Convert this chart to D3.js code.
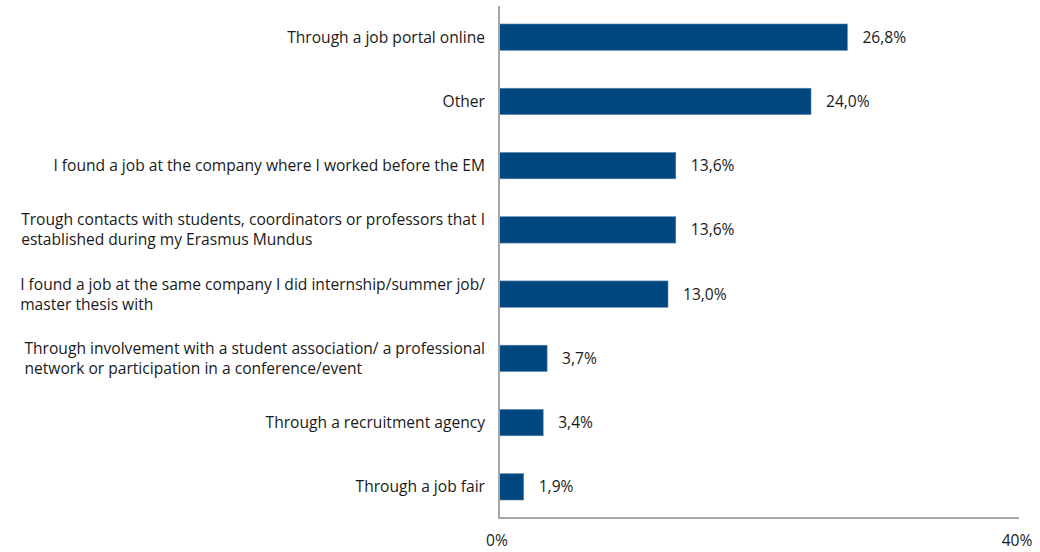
<!DOCTYPE html>
<html>
<head>
<meta charset="utf-8">
<script src="https://cdn.jsdelivr.net/npm/d3@7"></script>
<style>
  html, body { margin: 0; padding: 0; background: #fff; }
  svg text { font-family: "Open Sans", "Noto Sans", sans-serif; fill: #1a1a1a; }
</style>
</head>
<body>
<svg id="chart" width="1040" height="552"></svg>
<script>
// Answers, top to bottom; "\n" splits a label over two lines
const categories = [
  "Through a job portal online",
  "Other",
  "I found a job at the company where I worked before the EM",
  "Trough contacts with students, coordinators or professors that I\nestablished during my Erasmus Mundus",
  "I found a job at the same company I did internship/summer job/\nmaster thesis with",
  "Through involvement with a student association/ a professional\nnetwork or participation in a conference/event",
  "Through a recruitment agency",
  "Through a job fair"
];
const values = [26.8, 24.0, 13.6, 13.6, 13.0, 3.7, 3.4, 1.9];
const xTicks = [0, 40];

const svg = d3.select("#chart");
const x0 = 499, x1 = 1019, yTop = 6, yBottom = 518;
const fontSize = 15.6;

const x = d3.scaleLinear().domain([0, 40]).range([x0, x1]);
const y = d3.scaleBand().domain(categories).range([yTop, yBottom]).paddingInner(0.59).paddingOuter(0.28);

const fmt = v => v.toFixed(1).replace(".", ",") + "%";

// bars
svg.append("g").selectAll("rect")
  .data(values)
  .join("rect")
  .attr("x", x(0))
  .attr("y", (d, i) => y(categories[i]))
  .attr("width", d => x(d) - x(0))
  .attr("height", y.bandwidth())
  .attr("fill", "#00467f")
  .attr("stroke", "#5a86ad")
  .attr("stroke-width", 0.6);

// value labels
svg.append("g").selectAll("text")
  .data(values)
  .join("text")
  .attr("x", d => x(d) + 15)
  .attr("y", (d, i) => y(categories[i]) + y.bandwidth() / 2)
  .attr("dy", "0.35em")
  .attr("font-size", fontSize)
  .text(fmt);

// category labels: each block is left-aligned and its widest line ends near the axis
const labelRight = x0 - 14;
const lineH = 20;
const lg = svg.append("g");
categories.forEach(c => {
  const lines = c.split("\n");
  const cy = y(c) + y.bandwidth() / 2;
  const t = lg.append("text").attr("font-size", fontSize);
  lines.forEach((ln, k) => {
    t.append("tspan")
      .attr("y", cy + (k - (lines.length - 1) / 2) * lineH)
      .attr("dy", "0.35em")
      .text(ln);
  });
  const spans = t.selectAll("tspan").nodes();
  const w = d3.max(spans, s => s.getComputedTextLength());
  spans.forEach(s => s.setAttribute("x", labelRight - w));
});

// axes
const axisColor = "#a6a6a6";
svg.append("line")
  .attr("x1", x0).attr("x2", x0).attr("y1", yTop).attr("y2", yBottom)
  .attr("stroke", axisColor).attr("stroke-width", 2);
svg.append("line")
  .attr("x1", x0 - 1).attr("x2", x1).attr("y1", yBottom).attr("y2", yBottom)
  .attr("stroke", axisColor).attr("stroke-width", 2);

svg.append("g").selectAll("text")
  .data(xTicks)
  .join("text")
  .attr("x", d => x(d) - 2)
  .attr("y", 541)
  .attr("dy", "0.35em")
  .attr("text-anchor", "middle")
  .attr("font-size", fontSize)
  .text(d => d + "%");
</script>
</body>
</html>
